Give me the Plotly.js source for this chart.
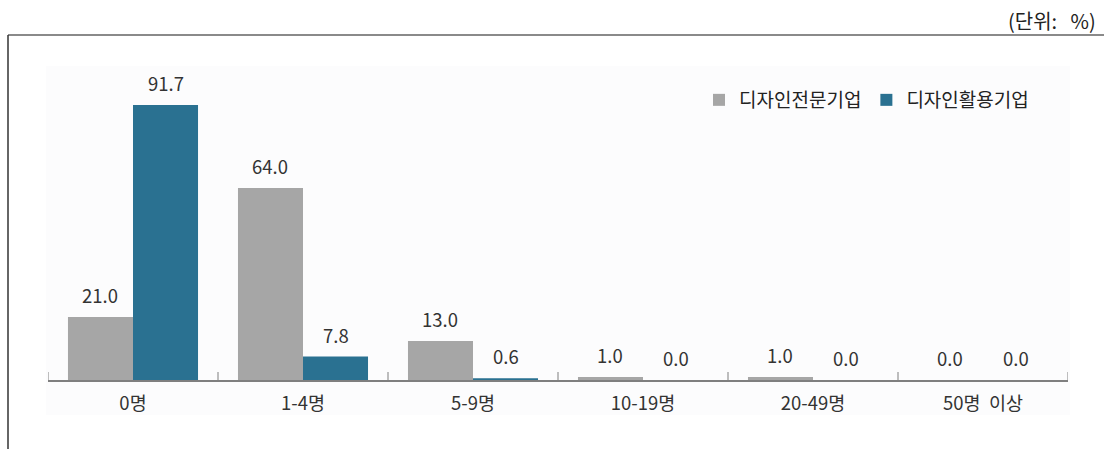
<!DOCTYPE html>
<html>
<head>
<meta charset="utf-8">
<script src="https://cdn.plot.ly/plotly-3.0.1.min.js"></script>
<style>
  html, body { margin: 0; padding: 0; background: #ffffff; }
  #chart { width: 1104px; height: 449px; }
</style>
</head>
<body>
<div id="chart"></div>
<script>
// Employee-size categories
const categories = ['0명', '1-4명', '5-9명', '10-19명', '20-49명', '50명  이상'];

// Series names
const seriesNames = ['디자인전문기업', '디자인활용기업'];

// Shares (%) per category
const specialistValues = [21.0, 64.0, 13.0, 1.0, 1.0, 0.0];
const userValues = [91.7, 7.8, 0.6, 0.0, 0.0, 0.0];

const unitLabel = '(단위:   %)';

const colors = ['#a6a6a6', '#2a7191'];
const font = '"Noto Sans CJK KR", "Noto Sans", sans-serif';

const W = 1104, H = 449;
const margin = { l: 48, r: 36, t: 80, b: 69 };
const plotW = W - margin.l - margin.r;
const plotH = H - margin.t - margin.b;
// pixel position -> paper fraction
const px = (x) => (x - margin.l) / plotW;
const py = (y) => (H - margin.b - y) / plotH;

const xIdx = categories.map((_, i) => i);
const barGap = 0.235;
const halfBar = (1 - barGap) / 4;   // centre offset of each bar in a pair

const traces = [
  {
    type: 'bar', name: seriesNames[0], x: xIdx, y: specialistValues,
    marker: { color: colors[0] }, hoverinfo: 'y'
  },
  {
    type: 'bar', name: seriesNames[1], x: xIdx, y: userValues,
    marker: { color: colors[1] }, hoverinfo: 'y'
  }
];

// Value labels above each bar
const annotations = [];
[specialistValues, userValues].forEach((vals, s) => {
  vals.forEach((v, i) => {
    annotations.push({
      x: i + (s === 0 ? -halfBar : halfBar), y: v, xref: 'x', yref: 'y',
      text: v.toFixed(1), showarrow: false, yanchor: 'middle', yshift: 22,
      font: { family: font, size: 18.5, color: '#333333' }
    });
  });
});

// Unit note at top right
annotations.push({
  x: px(1098), y: py(21), xref: 'paper', yref: 'paper', text: unitLabel,
  showarrow: false, xanchor: 'right', yanchor: 'middle',
  font: { family: font, size: 20, color: '#222222' }
});

const shapes = [
  // faint chart panel
  { type: 'rect', xref: 'paper', yref: 'paper', layer: 'below',
    x0: px(46), x1: px(1070), y0: py(415), y1: py(66),
    line: { width: 0 }, fillcolor: '#fcfcfd' },
  // outer frame: top edge
  { type: 'line', xref: 'paper', yref: 'paper', layer: 'below',
    x0: px(8), x1: px(1104), y0: py(35), y1: py(35),
    line: { color: '#8a8a8a', width: 2 } },
  // outer frame: left edge
  { type: 'line', xref: 'paper', yref: 'paper', layer: 'above',
    x0: px(8), x1: px(8), y0: py(449), y1: py(35),
    line: { color: '#333333', width: 1.5 } }
];

// Category boundary ticks pointing up from the axis
for (let i = 0; i <= categories.length; i++) {
  shapes.push({
    type: 'line', xref: 'x', yref: 'paper', x0: i - 0.5, x1: i - 0.5,
    y0: 0, y1: 8 / plotH,
    line: { color: '#7f7f7f', width: 1 }
  });
}

const layout = {
  width: W, height: H,
  margin: margin,
  paper_bgcolor: '#ffffff', plot_bgcolor: 'rgba(0,0,0,0)',
  barmode: 'group', bargap: barGap, bargroupgap: 0,
  showlegend: true,
  legend: {
    orientation: 'h', x: px(1034), y: py(100), xref: 'paper', yref: 'paper',
    xanchor: 'right', yanchor: 'middle',
    font: { family: font, size: 19, color: '#222222' },
    bgcolor: 'rgba(0,0,0,0)', itemclick: false, itemwidth: 30,
    traceorder: 'normal'
  },
  xaxis: {
    type: 'linear', range: [-0.5, categories.length - 0.5],
    tickmode: 'array', tickvals: xIdx, ticktext: categories,
    showline: true, linecolor: '#7f7f7f', linewidth: 1.5,
    ticks: '', showgrid: false, zeroline: false,
    tickfont: { family: font, size: 18.5, color: '#333333' },
    ticklabelstandoff: 6, fixedrange: true
  },
  yaxis: {
    range: [0, 100], visible: false, showgrid: false, zeroline: false,
    fixedrange: true
  },
  shapes: shapes,
  annotations: annotations
};

Plotly.newPlot('chart', traces, layout, { displayModeBar: false, staticPlot: true });
</script>
</body>
</html>
